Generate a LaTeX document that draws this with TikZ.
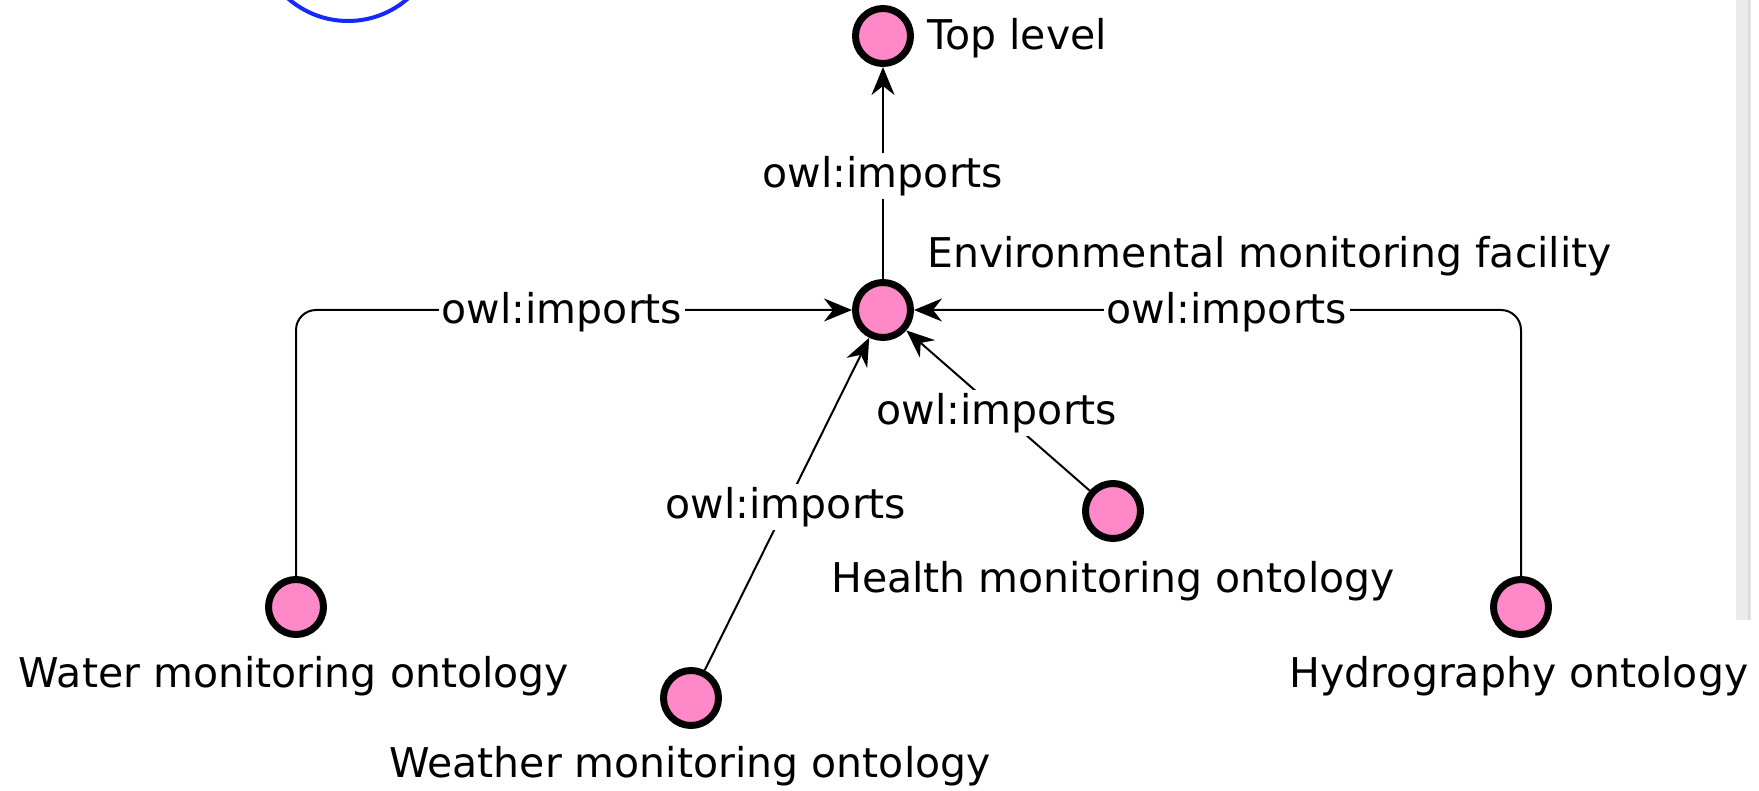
\documentclass[tikz,border=0pt]{standalone}
\usepackage{fontspec}
\setmainfont{DejaVu Sans}
\usetikzlibrary{arrows.meta}
\definecolor{nodepink}{RGB}{255,136,200}
\definecolor{arcblue}{RGB}{20,40,255}
\definecolor{bargrey}{RGB}{235,235,235}
\definecolor{barline}{RGB}{218,218,218}
\tikzset{
  onode/.style={circle, draw=black, line width=7pt, fill=nodepink, minimum size=55pt, inner sep=0pt},
  edge/.style={line width=2pt, -{Stealth[length=28pt,width=23pt,inset=9pt]}},
  txt/.style={font=\fontsize{41}{49}\selectfont, inner sep=0pt},
  lbl/.style={font=\fontsize{41}{49}\selectfont, fill=white, inner sep=3pt}
}
\begin{document}
\begin{tikzpicture}[x=1pt,y=-1pt]
\useasboundingbox (0,0) rectangle (1759,791);
% decorations
\begin{scope}
\clip (0,0) rectangle (1759,791);
\draw[arcblue, line width=4pt] (348,-70) circle[radius=91];
\end{scope}
\fill[bargrey] (1736,0) rectangle (1751,620);
\draw[barline, line width=1.5pt] (1749,0) -- (1749,620);
% nodes
\node[onode] (top) at (883,36) {};
\node[onode] (env) at (883,310) {};
\node[onode] (water) at (296,607) {};
\node[onode] (weather) at (691,698) {};
\node[onode] (health) at (1113,511) {};
\node[onode] (hydro) at (1521,607) {};
% edges
\draw[edge] (env) -- (top);
\draw[edge, rounded corners=20pt] (water.north) |- (env.west);
\draw[edge, rounded corners=20pt] (hydro.north) |- (env.east);
\draw[edge] (weather) -- (env);
\draw[edge] (health) -- (env);
% edge labels
\node[lbl] (l1) at (883,176) {owl:imports};
\node[lbl] (l2) at (562,312) {owl:imports};
\node[lbl] (l3) at (1227,312) {owl:imports};
\node[lbl] (l4) at (997,413) {owl:imports};
\node[lbl] (l5) at (786,507) {owl:imports};
% node labels
\node[txt, anchor=base west] (ttop) at (927,50) {Top level};
\node[txt, anchor=base west] (tenv) at (927,268) {Environmental monitoring facility};
\node[txt, anchor=base] (twater) at (294,687) {Water monitoring ontology};
\node[txt, anchor=base] (tweather) at (690,777) {Weather monitoring ontology};
\node[txt, anchor=base] (thealth) at (1113,592) {Health monitoring ontology};
\node[txt, anchor=base] (thydro) at (1519,687) {Hydrography ontology};
\end{tikzpicture}
\end{document}
